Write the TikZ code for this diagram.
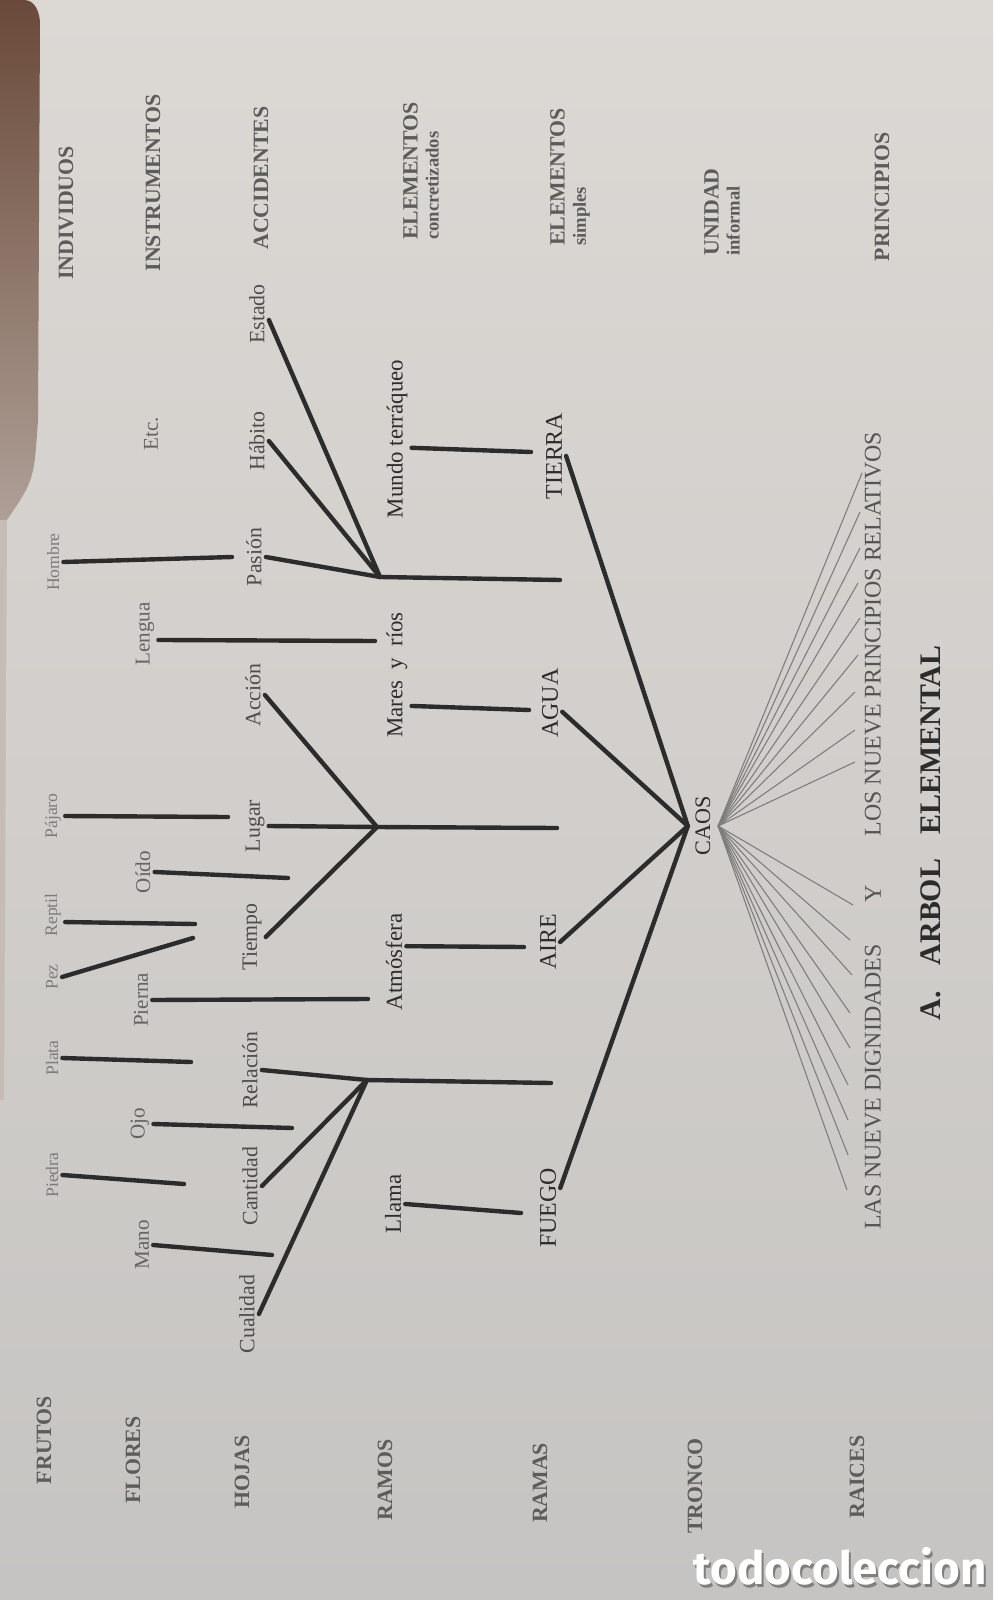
\documentclass[tikz,border=0pt]{standalone}
\usepackage{fontspec}
\setmainfont{Liberation Serif}
\newfontfamily\marcafont{Fira Sans}
\definecolor{tinta}{HTML}{2C2C2C}
\definecolor{gris}{HTML}{7C7C7C}
\definecolor{papelA}{HTML}{DCD8D4}
\definecolor{papelB}{HTML}{C6C4C2}
\definecolor{lomo}{HTML}{6A4A3A}
\newcommand{\segundalinea}{\fontsize{5.3}{6}\selectfont}

\begin{document}
\begin{tikzpicture}[x=0.01cm,y=-0.01cm,
	etiq/.style={rotate=90,inner sep=1pt,text=tinta},
	fruto/.style={etiq,text=gris,font=\fontsize{5}{6}\selectfont},
	flor/.style={etiq,text=gris!70!tinta,font=\fontsize{6}{7}\selectfont},
	hoja/.style={etiq,text=gris!40!tinta,font=\fontsize{6.2}{7}\selectfont},
	ramo/.style={etiq,font=\fontsize{6.5}{8}\selectfont},
	rama/.style={etiq,font=\fontsize{6.8}{8}\selectfont},
	nivel/.style={etiq,align=left,text=gris!60!tinta,font=\fontsize{6.2}{6}\selectfont\bfseries},
	titulo/.style={etiq,font=\fontsize{8.5}{10}\selectfont\bfseries},
	tallo/.style={draw=tinta,line width=1.25pt,line cap=round},
	raiz/.style={draw=gris,line width=0.3pt}]
					%PAGINA
					\useasboundingbox (0,0) rectangle (993,1600);
					\shade[top color=papelA,bottom color=papelB] (0,0) rectangle (993,1600);
					\shade[top color=lomo,middle color=lomo!80!papelA,bottom color=lomo!40!papelA] (0,0) -- (24,0) to[out=0,in=90] (40,24) -- (38,420) .. controls (34,480) .. (7,520) -- (0,520) -- cycle;
					\fill[lomo!20!papelA] (0,520) -- (7,520) -- (4,1100) -- (0,1100) -- cycle;
					%NIVELES
					\node[nivel] (frutos) at (44,1440) {FRUTOS};
					\node[nivel] (flores) at (133,1460) {FLORES};
					\node[nivel] (hojas) at (242,1472) {HOJAS};
					\node[nivel] (ramos) at (385,1480) {RAMOS};
					\node[nivel] (ramas) at (540,1483) {RAMAS};
					\node[nivel] (tronco) at (695,1486) {TRONCO};
					\node[nivel] (raices) at (857,1477) {RAICES};
					\node[nivel] (individuos) at (66,213) {INDIVIDUOS};
					\node[nivel] (instrumentos) at (153,183) {INSTRUMENTOS};
					\node[nivel] (accidentes) at (261,178) {ACCIDENTES};
					\node[nivel] (concretos) at (421,171) {ELEMENTOS\\{\segundalinea concretizados}};
					\node[nivel] (simples) at (570,177) {ELEMENTOS\\{\segundalinea simples}};
					\node[nivel] (unidad) at (722,212) {UNIDAD\\{\segundalinea informal}};
					\node[nivel] (principios) at (882,197) {PRINCIPIOS};
					%FRUTOS
					\node[fruto] (piedra) at (52,1175) {Piedra};
					\node[fruto] (plata) at (52,1058) {Plata};
					\node[fruto] (pez) at (52,977) {Pez};
					\node[fruto] (reptil) at (53,915) {Reptil};
					\node[fruto] (pajaro) at (53,816) {Pájaro};
					\node[fruto] (hombre) at (53,562) {Hombre};
					\draw[tallo] (piedra.south) -- (184,1184) coordinate (piedra-e);
					\draw[tallo] (plata.south) -- (191,1062) coordinate (plata-e);
					\draw[tallo] (pez.south) -- (193,938) coordinate (pez-e);
					\draw[tallo] ([yshift=-2pt]reptil.south) -- (195,924) coordinate (reptil-e);
					\draw[tallo] (pajaro.south) -- (228,817) coordinate (pajaro-e);
					\draw[tallo] (hombre.south) -- (232,557) coordinate (hombre-e);
					%FLORES
					\node[flor] (mano) at (142,1245) {Mano};
					\node[flor] (ojo) at (140,1124) {Ojo};
					\node[flor] (pierna) at (141,1000) {Pierna};
					\node[flor] (oido) at (143,872) {Oído};
					\node[flor] (lengua) at (145,634) {Lengua};
					\node[flor] (etc) at (151,434) {Etc.};
					\draw[tallo] (mano.south) -- (272,1255) coordinate (mano-e);
					\draw[tallo] (ojo.south) -- (292,1128) coordinate (ojo-e);
					\draw[tallo] (pierna.south) -- (368,999) coordinate (pierna-e);
					\draw[tallo] (oido.south) -- (288,878) coordinate (oido-e);
					\draw[tallo] ([yshift=-1.7pt]lengua.south) -- (375,641) coordinate (lengua-e);
					%HOJAS
					\node[hoja] (cualidad) at (247,1314) {Cualidad};
					\node[hoja] (cantidad) at (250,1186) {Cantidad};
					\node[hoja] (relacion) at (250,1070) {Relación};
					\node[hoja] (tiempo) at (252,937) {Tiempo};
					\node[hoja] (lugar) at (255,826) {Lugar};
					\node[hoja] (accion) at (253,695) {Acción};
					\node[hoja] (pasion) at (254,557) {Pasión};
					\node[hoja] (habito) at (257,441) {Hábito};
					\node[hoja] (estado) at (257,314) {Estado};
					\coordinate (j1) at (367,1080);
					\coordinate (j2) at (377,827);
					\coordinate (j3) at (380,577);
					\draw[tallo] (cualidad.south) -- (j1);
					\draw[tallo] (cantidad.south) -- (j1);
					\draw[tallo] (relacion.south) -- (j1) -- (551,1083) coordinate (j1-e);
					\draw[tallo] (tiempo.south) -- (j2);
					\draw[tallo] (lugar.south) -- (j2) -- (557,828) coordinate (j2-e);
					\draw[tallo] (accion.south) -- (j2);
					\draw[tallo] (pasion.south) -- (j3) -- (560,580) coordinate (j3-e);
					\draw[tallo] (habito.south) -- (j3);
					\draw[tallo] ([yshift=-1.7pt]estado.south) -- (j3);
					%RAMOS
					\node[ramo] (llama) at (393,1204) {Llama};
					\node[ramo] (atmosfera) at (394,962) {Atmósfera};
					\node[ramo] (mares) at (397,675) {Mares\enspace y\enspace ríos};
					\node[ramo] (mundo) at (397,439) {Mundo terráqueo};
					\draw[tallo] (llama.south) -- (521,1213) coordinate (llama-e);
					\draw[tallo] ([yshift=4.5pt]atmosfera.south) -- (524,947) coordinate (atmosfera-e);
					\draw[tallo] ([yshift=-8.8pt]mares.south) -- (529,710) coordinate (mares-e);
					\draw[tallo] ([yshift=-2.5pt]mundo.south) -- (531,452) coordinate (mundo-e);
					%RAMAS Y TRONCO
					\node[rama] (fuego) at (548,1208) {FUEGO};
					\node[rama] (aire) at (548,942) {AIRE};
					\node[rama] (agua) at (550,703) {AGUA};
					\node[rama] (tierra) at (554,456) {TIERRA};
					\node[etiq,inner sep=2pt,font=\fontsize{6.3}{8}\selectfont] (caos) at (703,826) {CAOS};
					\draw[tallo] ([yshift=5.7pt]fuego.south) -- (caos.north);
					\draw[tallo] (aire.south) -- (caos.north);
					\draw[tallo] ([yshift=-2.5pt]agua.south) -- (caos.north);
					\draw[tallo] (tierra.south) -- (caos.north);
					%RAICES
					\foreach \x/\y in {862/473,860/512,860/548,858/583,860/618,858/655,855/692,855/730,855/762}
						\draw[raiz] (caos.south) -- (\x,\y);
					\foreach \x/\y in {853/905,850/940,852/975,850/1013,850/1048,848/1085,848/1120,848/1155,847/1190}
						\draw[raiz] (caos.south) -- (\x,\y);
					\node[rama,text=gris!50!tinta] (dignidades) at (873,1087) {LAS NUEVE DIGNIDADES};
					\node[rama,text=gris!50!tinta] (yy) at (873,894) {Y};
					\node[rama,text=gris!50!tinta] (relativos) at (873,634) {LOS NUEVE PRINCIPIOS RELATIVOS};
					%TITULO
					\node[titulo] (titulo-a) at (931,1006) {A.};
					\node[titulo] (titulo-arbol) at (931,912) {ARBOL};
					\node[titulo] (titulo-elemental) at (931,740) {ELEMENTAL};
					%MARCA
					\node[font=\marcafont\bfseries\fontsize{13}{14}\selectfont,text=black,opacity=0.35] (marca-sombra) at (842,1569) {todocoleccion};
					\node[font=\marcafont\bfseries\fontsize{13}{14}\selectfont,text=white] (marca) at (840,1566) {todocoleccion};
\end{tikzpicture}
\end{document}
